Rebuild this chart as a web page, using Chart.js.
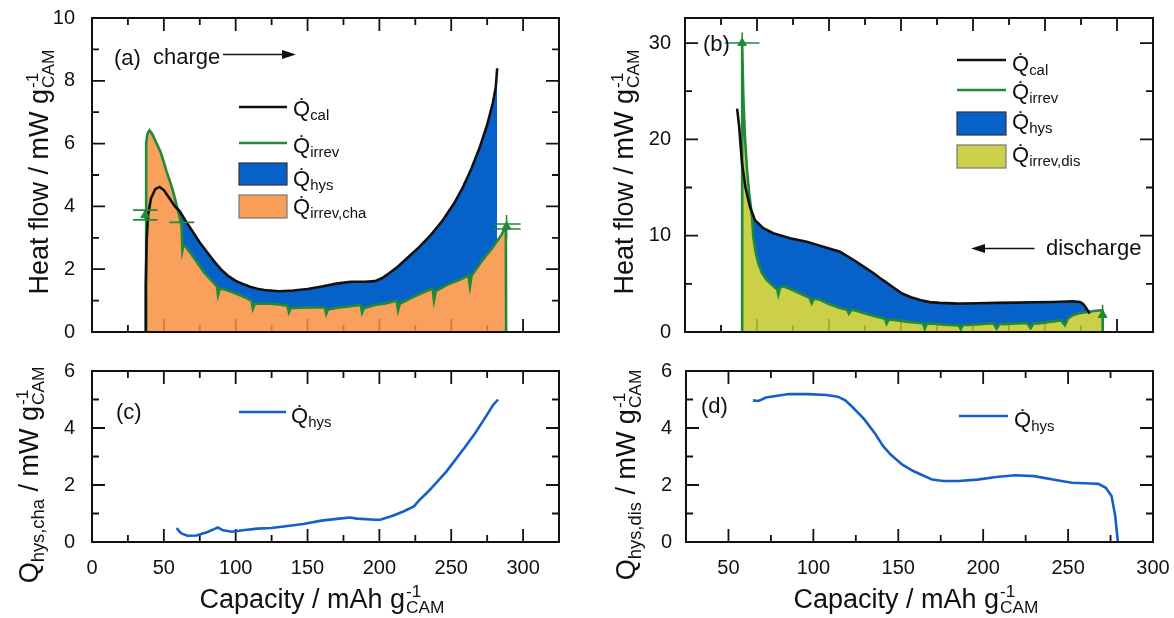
<!DOCTYPE html>
<html>
<head>
<meta charset="utf-8">
<script src="https://cdn.jsdelivr.net/npm/chart.js@4.4.1/dist/chart.umd.min.js"></script>
<style>
  body { margin: 0; width: 1174px; height: 618px; background: #fff; overflow: hidden;
         font-family: 'Liberation Sans', Arial, Helvetica, sans-serif; color: #111; }
  .panel { position: absolute; }
  .txt { position: absolute; white-space: nowrap; font-size: 22px; line-height: 22px; }
  .ytitle { position: absolute; white-space: nowrap; font-size: 27px; line-height: 27px;
            transform: translate(-50%, -50%) rotate(-90deg); }
  .xtitle { position: absolute; white-space: nowrap; font-size: 27px; line-height: 27px;
            transform: translateX(-50%); }
  sub { font-size: 0.68em; vertical-align: -0.3em; line-height: 0; }
  .ss { display: inline-flex; flex-direction: column; font-size: 0.64em; line-height: 0.95;
        vertical-align: 0.62em; margin-left: 1px; }
  #marks { position: absolute; left: 0; top: 0; }
</style>
</head>
<body>

<div class="panel" style="left:0;top:0"><canvas id="chart-a" width="590" height="345"></canvas></div>
<div class="panel" style="left:590px;top:0"><canvas id="chart-b" width="584" height="345"></canvas></div>
<div class="panel" style="left:0;top:345px"><canvas id="chart-c" width="590" height="273"></canvas></div>
<div class="panel" style="left:590px;top:345px"><canvas id="chart-d" width="584" height="273"></canvas></div>

<svg id="marks" width="1174" height="618">
  <!-- direction arrows -->
  <line x1="223" y1="54.5" x2="284" y2="54.5" stroke="#111" stroke-width="1.6"/>
  <polygon points="296,54.5 282,50 282,59" fill="#111"/>
  <line x1="984" y1="248.5" x2="1034.5" y2="248.5" stroke="#111" stroke-width="1.6"/>
  <polygon points="971,248.5 985,244 985,253" fill="#111"/>
  <!-- legend swatches (a) -->
  <line x1="239" y1="107" x2="287" y2="107" stroke="#111" stroke-width="2.6"/>
  <line x1="239" y1="143" x2="287" y2="143" stroke="#218a3a" stroke-width="2.6"/>
  <rect x="239" y="163" width="48" height="22" fill="rgb(6,98,200)" stroke="#333" stroke-width="1.2"/>
  <rect x="239" y="195" width="48" height="23" fill="#f8a05a" stroke="#777" stroke-width="1.2"/>
  <!-- legend swatches (b) -->
  <line x1="957" y1="60" x2="1006" y2="60" stroke="#111" stroke-width="2.6"/>
  <line x1="957" y1="90" x2="1006" y2="90" stroke="#218a3a" stroke-width="2.6"/>
  <rect x="957" y="112" width="49" height="23" fill="rgb(6,98,200)" stroke="#333" stroke-width="1.2"/>
  <rect x="957" y="145" width="49" height="23" fill="#cdd14a" stroke="#777" stroke-width="1.2"/>
  <!-- legend swatches (c), (d) -->
  <line x1="239" y1="412" x2="286" y2="412" stroke="#1560c8" stroke-width="2.6"/>
  <line x1="959" y1="416" x2="1008" y2="416" stroke="#1560c8" stroke-width="2.6"/>
</svg>

<!-- panel labels and notes -->
<div class="txt" style="left:114px;top:47px">(a)</div>
<div class="txt" style="left:153px;top:46px">charge</div>
<div class="txt" style="left:703px;top:33px">(b)</div>
<div class="txt" style="left:1046px;top:237px">discharge</div>
<div class="txt" style="left:116px;top:401px">(c)</div>
<div class="txt" style="left:701px;top:395px">(d)</div>

<!-- legends -->
<div class="txt" style="left:293px;top:98px">Q&#775;<sub>cal</sub></div>
<div class="txt" style="left:293px;top:135px">Q&#775;<sub>irrev</sub></div>
<div class="txt" style="left:293px;top:168px">Q&#775;<sub>hys</sub></div>
<div class="txt" style="left:293px;top:196px">Q&#775;<sub>irrev,cha</sub></div>
<div class="txt" style="left:1012px;top:53px">Q&#775;<sub>cal</sub></div>
<div class="txt" style="left:1012px;top:81px">Q&#775;<sub>irrev</sub></div>
<div class="txt" style="left:1012px;top:111px">Q&#775;<sub>hys</sub></div>
<div class="txt" style="left:1012px;top:144px">Q&#775;<sub>irrev,dis</sub></div>
<div class="txt" style="left:291px;top:405px">Q&#775;<sub>hys</sub></div>
<div class="txt" style="left:1014px;top:409px">Q&#775;<sub>hys</sub></div>

<!-- axis titles -->
<div class="ytitle" style="left:40px;top:172px">Heat flow / mW g<span class="ss"><span>-1</span><span>CAM</span></span></div>
<div class="ytitle" style="left:625px;top:172px">Heat flow / mW g<span class="ss"><span>-1</span><span>CAM</span></span></div>
<div class="ytitle" style="left:30px;top:475px">Q<sub>hys,cha</sub> / mW g<span class="ss"><span>-1</span><span>CAM</span></span></div>
<div class="ytitle" style="left:627px;top:475px">Q<sub>hys,dis</sub> / mW g<span class="ss"><span>-1</span><span>CAM</span></span></div>
<div class="xtitle" style="left:322px;top:583px">Capacity / mAh g<span class="ss"><span>-1</span><span>CAM</span></span></div>
<div class="xtitle" style="left:916px;top:583px">Capacity / mAh g<span class="ss"><span>-1</span><span>CAM</span></span></div>

<script>
// ── Data: [capacity, heat flow] ───────────────────────────────────────────────

// (a) charge
const qCalA = [[37.0,0],[37.4,1.5],[38,2.9],[39,3.7],[41,4.25],[44,4.55],[47,4.62],[50,4.52],[54,4.25],
  [58,3.98],[61,3.85],[65,3.55],[70,3.2],[75,2.85],[80,2.55],[85,2.25],[90,1.98],[95,1.78],[100,1.63],
  [105,1.53],[110,1.44],[115,1.38],[120,1.34],[130,1.3],[140,1.32],[150,1.37],[160,1.45],[170,1.54],
  [180,1.6],[190,1.6],[197,1.62],[202,1.72],[207,1.88],[212,2.05],[220,2.38],[228,2.72],[236,3.1],
  [244,3.55],[252,4.1],[258,4.6],[264,5.2],[270,5.9],[275,6.6],[279,7.3],[281,7.8],[282,8.4]];
const qIrrevA = [[37.6,0],[37.7,6.0],[38.5,6.3],[40,6.42],[42,6.3],[45,6.0],[48,5.7],[52,5.1],[56,4.55],
  [60,3.85],[62.3,3.4],[62.9,2.6],[63.8,2.8],[68,2.55],[72.6,2.25],[78,1.9],[85,1.55],[87,1.45],[87.7,1.18],
  [88.8,1.38],[92,1.36],[96,1.3],[104,1.15],[111,1.0],[112,0.75],[113.2,0.9],[118,0.9],[124,0.9],[130,0.88],
  [136,0.84],[137,0.63],[138.2,0.76],[145,0.77],[155,0.78],[162,0.78],[163,0.58],[164.2,0.72],[172,0.78],
  [180,0.82],[187,0.86],[188,0.62],[189.2,0.76],[197,0.86],[205,0.92],[212,1.0],[213,0.69],[214.2,0.9],
  [222,1.08],[230,1.25],[237,1.38],[238,1.0],[239.2,1.3],[247,1.5],[255,1.65],[262,1.8],[263,1.45],
  [264.2,1.8],[272,2.3],[279,2.7],[285,3.1],[288,3.38],[288.2,0]];
const markA = [[37,3.72],[288.5,3.36]];
// [capacity, value, x half-width, y half-width]
const errA = [[37,3.88,8.5,0],[37,3.57,8.5,0],[37,3.72,0,0.17],[62.5,3.49,8.7,0],
  [289,3.44,9.3,0],[289,3.28,9.3,0],[288.5,3.36,0,0.37]];

// (b) discharge
const qCalB = [[36.2,23.2],[37.5,21.5],[39.6,17.5],[42,15],[45.1,13.0],[48.6,11.6],[54.4,10.77],
  [61.3,10.25],[72.9,9.73],[84.5,9.38],[96,8.86],[107.6,8.34],[111.2,8.0],[118,7.4],[124.3,6.76],
  [131,6.1],[137.5,5.38],[144,4.7],[150.7,3.99],[157,3.6],[163.9,3.3],[170,3.1],[176.9,3.02],[190,2.95],
  [203,2.98],[216.4,3.02],[230,3.05],[242.7,3.09],[256,3.12],[269,3.19],[274.3,3.12],[276.5,2.9],
  [278.3,2.55],[280,2.15],[281,1.9]];
const qIrrevB = [[39.6,0],[39.7,30],[40.5,24.5],[41.5,20.6],[43,17],[44.5,14.5],[46.3,12.3],[47.5,9.8],
  [49,8.3],[50.9,7.13],[53.5,6.1],[56.7,5.4],[62.5,4.6],[64,4.45],[64.8,3.9],[66,4.6],[68.3,4.75],[74,4.4],
  [79.9,4.0],[86.5,3.55],[88,2.98],[89.5,3.45],[93.8,3.35],[100,2.9],[107.6,2.5],[112.5,2.3],[113.8,1.9],
  [115.5,2.3],[119,2.2],[128,1.8],[137.5,1.42],[139,1.3],[140,0.87],[141.5,1.3],[145.4,1.25],[155,1.05],
  [163.9,0.94],[165.5,0.85],[166.5,0.35],[168,0.9],[171.8,0.87],[180,0.75],[190,0.69],[191.5,0.3],
  [193,0.72],[196.8,0.72],[205,0.8],[214,0.92],[216.4,0.35],[218.5,0.85],[221.7,0.82],[230,0.9],
  [237.5,0.94],[240.1,0.4],[242,0.9],[245.4,0.9],[253,1.05],[261.2,1.2],[263.8,0.7],[266,1.4],[269,1.73],
  [274,1.95],[279.6,2.08],[284,2.18],[288.8,2.25],[290,2.2],[290.1,0]];
const markB = [[39.7,30],[290,1.77]];
const errB = [[39.7,30,12,1.1],[290,1.77,2.5,1.05]];

// (c) hysteresis heat, charge
const qHysC = [[58.9,0.49],[61,0.36],[62.6,0.29],[66.4,0.22],[72.6,0.23],[80,0.34],[85,0.45],[87.5,0.51],
  [91.2,0.41],[97.4,0.36],[105,0.41],[115,0.47],[124.8,0.49],[134.7,0.55],[147,0.63],[159.6,0.75],
  [172,0.82],[179.5,0.86],[184.4,0.82],[196.9,0.78],[200.6,0.78],[209.3,0.92],[216.7,1.07],[224,1.25],
  [228,1.48],[234,1.77],[246.6,2.47],[259,3.29],[266.5,3.81],[274,4.39],[279,4.8],[282.6,5.0]];

// (d) hysteresis heat, discharge
const qHysD = [[64.4,4.97],[67.7,4.95],[72.1,5.07],[78.8,5.13],[85.5,5.19],[96.6,5.19],[107.7,5.16],
  [114.4,5.1],[118.8,4.97],[123.3,4.72],[129.9,4.31],[136.6,3.78],[141,3.37],[145.5,3.07],[152.2,2.72],
  [158.8,2.49],[163.3,2.37],[170,2.19],[176.6,2.14],[185.5,2.14],[196.6,2.19],[207.7,2.28],[218.9,2.34],
  [230,2.31],[241,2.19],[252.2,2.08],[263.3,2.05],[267.8,2.04],[272.2,1.9],[275.6,1.61],[277.8,0.9],[279.3,0]];

// ── Styles ────────────────────────────────────────────────────────────────────

const BLACK = '#111';
const GREEN = '#218a3a';
const BLUE_FILL = 'rgb(6,98,200)';
const BLUE_LINE = '#1560c8';
const ORANGE = 'rgba(247,143,64,0.85)';
const YELLOW = 'rgba(195,200,40,0.85)';
const FONT = "'Liberation Sans', Arial, Helvetica, sans-serif";

Chart.defaults.font.family = FONT;

const pts = arr => arr.map(([x, y]) => ({ x, y }));

// ── Plugins ───────────────────────────────────────────────────────────────────

function eachTick(scale, step, major, fn) {
  for (let k = Math.ceil(scale.min / step - 1e-9); k * step <= scale.max + 1e-9; k++) {
    const v = k * step;
    fn(v, Math.abs(v / major - Math.round(v / major)) < 1e-9);
  }
}

// Inward ticks on all four sides plus a closed frame
const frameTicks = {
  id: 'frameTicks',
  beforeDatasetsDraw(chart, args, o) {
    const { ctx, chartArea: a, scales: { x, y } } = chart;
    ctx.save();
    ctx.strokeStyle = BLACK;
    ctx.lineWidth = 1.8;
    ctx.beginPath();
    eachTick(x, o.xStep, o.xMajor, (v, major) => {
      const px = x.getPixelForValue(v), len = major ? 13 : 7;
      ctx.moveTo(px, a.bottom); ctx.lineTo(px, a.bottom - len);
      ctx.moveTo(px, a.top); ctx.lineTo(px, a.top + len);
    });
    eachTick(y, o.yStep, o.yMajor, (v, major) => {
      const py = y.getPixelForValue(v), len = major ? 13 : 7;
      ctx.moveTo(a.left, py); ctx.lineTo(a.left + len, py);
      ctx.moveTo(a.right, py); ctx.lineTo(a.right - len, py);
    });
    ctx.stroke();
    ctx.restore();
  },
  afterDatasetsDraw(chart) {
    const { ctx, chartArea: a } = chart;
    ctx.save();
    ctx.strokeStyle = BLACK;
    ctx.lineWidth = 2;
    ctx.strokeRect(a.left, a.top, a.right - a.left, a.bottom - a.top);
    ctx.restore();
  }
};

// Error bars of the measured irreversible heat
const errBars = {
  id: 'errBars',
  afterDatasetsDraw(chart, args, o) {
    if (!o.items) return;
    const { ctx, scales: { x, y } } = chart;
    ctx.save();
    ctx.strokeStyle = GREEN;
    ctx.lineWidth = 1.6;
    ctx.beginPath();
    for (const [cx, cy, dx, dy] of o.items) {
      if (dx) {
        ctx.moveTo(x.getPixelForValue(cx - dx), y.getPixelForValue(cy));
        ctx.lineTo(x.getPixelForValue(cx + dx), y.getPixelForValue(cy));
      }
      if (dy) {
        ctx.moveTo(x.getPixelForValue(cx), y.getPixelForValue(cy - dy));
        ctx.lineTo(x.getPixelForValue(cx), y.getPixelForValue(cy + dy));
      }
    }
    ctx.stroke();
    ctx.restore();
  }
};

// fixed axis boxes so the plot area lands where the layout wants it
function pinScale(s, size) {
  if (s.isHorizontal()) s.height = size;
  else s.width = size;
  s.paddingTop = s.paddingBottom = s.paddingLeft = s.paddingRight = 0;
}

// ── Chart builder ─────────────────────────────────────────────────────────────

function makeChart(id, p) {
  const canvas = document.getElementById(id);
  const [l, t, r, b] = p.area;
  return new Chart(canvas.getContext('2d'), {
    type: 'line',
    data: { datasets: p.datasets },
    options: {
      responsive: false,
      animation: false,
      devicePixelRatio: 1,
      layout: { padding: { left: 0, top: t, right: canvas.width - r, bottom: 0 } },
      elements: { point: { radius: 0 }, line: { tension: 0 } },
      plugins: {
        legend: { display: false },
        tooltip: { enabled: false },
        frameTicks: p.ticks,
        errBars: { items: p.err }
      },
      scales: {
        x: {
          type: 'linear', min: p.x[0], max: p.x[1],
          grid: { display: false, drawTicks: false }, border: { display: false },
          ticks: {
            display: p.xLabels, stepSize: p.ticks.xStep, autoSkip: false, maxRotation: 0,
            padding: 14, color: BLACK, font: { size: 20 },
            callback: v => (v % p.ticks.xMajor === 0 ? String(v) : '')
          },
          afterFit: s => pinScale(s, canvas.height - b)
        },
        y: {
          type: 'linear', min: p.y[0], max: p.y[1],
          grid: { display: false, drawTicks: false }, border: { display: false },
          ticks: {
            stepSize: p.ticks.yStep, autoSkip: false, padding: p.yPad, color: BLACK, font: { size: 20 },
            callback: v => (v % p.ticks.yMajor === 0 ? String(v) : '')
          },
          afterFit: s => pinScale(s, l)
        }
      }
    },
    plugins: [frameTicks, errBars]
  });
}

function heatSets(cal, irrev, marks, under) {
  return [
    { data: pts(marks), showLine: false, pointStyle: 'triangle', pointRadius: 5,
      pointBackgroundColor: GREEN, pointBorderColor: GREEN },
    { data: pts(cal), borderColor: BLACK, borderWidth: 2.6, fill: false },
    { data: pts(irrev), borderColor: GREEN, borderWidth: 2.6, fill: false },
    { data: pts(cal), borderColor: 'rgba(0,0,0,0)', borderWidth: 0,
      fill: { target: 4, above: BLUE_FILL, below: 'rgba(0,0,0,0)' } },
    { data: pts(irrev), borderColor: 'rgba(0,0,0,0)', borderWidth: 0,
      backgroundColor: under, fill: 'origin' }
  ];
}

// ── Panels ────────────────────────────────────────────────────────────────────

makeChart('chart-a', {
  area: [92, 18, 559, 332], x: [0, 325], y: [0, 10], xLabels: false, yPad: 17,
  ticks: { xStep: 25, xMajor: 50, yStep: 1, yMajor: 2 },
  datasets: heatSets(qCalA, qIrrevA, markA, ORANGE), err: errA
});

makeChart('chart-b', {
  area: [95, 18, 563, 332], x: [0, 325], y: [0, 32.6], xLabels: false, yPad: 14,
  ticks: { xStep: 25, xMajor: 50, yStep: 5, yMajor: 10 },
  datasets: heatSets(qCalB, qIrrevB, markB, YELLOW), err: errB
});

makeChart('chart-c', {
  area: [92, 26, 559, 197], x: [0, 325], y: [0, 6], xLabels: true, yPad: 17,
  ticks: { xStep: 25, xMajor: 50, yStep: 1, yMajor: 2 },
  datasets: [{ data: pts(qHysC), borderColor: BLUE_LINE, borderWidth: 2.6, fill: false }]
});

makeChart('chart-d', {
  area: [96, 26, 563, 197], x: [25, 300], y: [0, 6], xLabels: true, yPad: 14,
  ticks: { xStep: 25, xMajor: 50, yStep: 1, yMajor: 2 },
  datasets: [{ data: pts(qHysD), borderColor: BLUE_LINE, borderWidth: 2.6, fill: false }]
});
</script>
</body>
</html>
